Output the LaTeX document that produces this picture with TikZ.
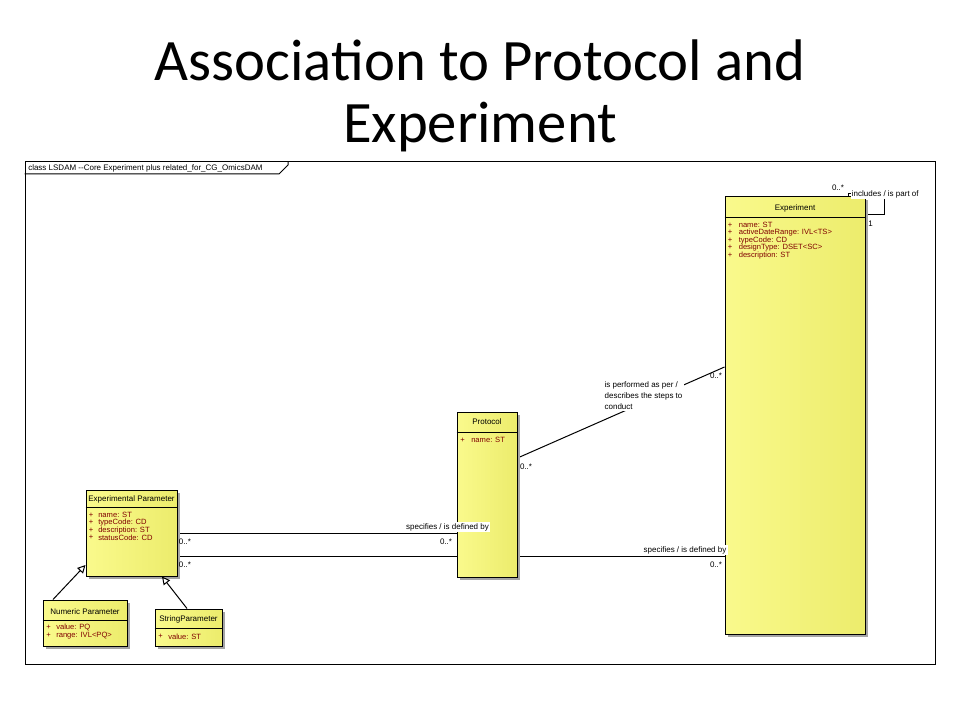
\documentclass[tikz,border=0pt]{standalone}
\usepackage{fontspec}
\setmainfont{Liberation Sans}
\newfontfamily\titlefont{Carlito}
\usetikzlibrary{fit,arrows.meta,shadows}
\pgfdeclarelayer{bg}
\pgfsetlayers{bg,main}
\definecolor{ylL}{RGB}{250,250,140}
\definecolor{ylM}{RGB}{255,255,158}
\definecolor{ylR}{RGB}{236,236,108}
\definecolor{attrc}{RGB}{128,0,0}
\definecolor{shadowc}{RGB}{165,165,165}
\tikzset{
  umlbox/.style={draw=black, line width=0.75pt, left color=ylL, middle color=ylM, right color=ylR,
    inner sep=0pt, drop shadow={shadow xshift=2.25pt, shadow yshift=-2.25pt, fill=shadowc, opacity=1}},
  ut/.style={font=\fontsize{6}{7}\selectfont, inner sep=0pt},
  hd/.style={ut, text=black},
  pl/.style={ut, font=\fontsize{5.7}{7}\selectfont, text=attrc, anchor=west},
  attxt/.style={ut, font=\fontsize{5.7}{7}\selectfont, text=attrc, anchor=west},
  lbl/.style={ut, fill=white, inner sep=1pt},
  conn/.style={draw=black, line width=0.75pt},
  gen/.style={conn, -{Triangle[fill=white, length=6pt, width=6pt, line width=0.75pt]}},
}
\begin{document}
\begin{tikzpicture}[x=0.75pt,y=-0.75pt]
\useasboundingbox (0,0) rectangle (960,720);
\begin{pgfonlayer}{bg}
\fill[white] (0,0) rectangle (960,720);
\end{pgfonlayer}

% title
\node[font=\titlefont\fontsize{44}{50}\selectfont, anchor=base] (t1) at (480,81) {Association to Protocol and};
\node[font=\titlefont\fontsize{44}{50}\selectfont, anchor=base] (t2) at (480,143) {Experiment};

% frame
\node[fit={(25,162)(935,664)}, inner sep=0pt, draw=black, line width=0.75pt] (frame) {};
\draw[conn] (frame.north west |- 0,174) -- (279,174) -- (288,165) -- (frame.north -| 288,0);
\node[ut, anchor=west] (framelbl) at (28,168) {class LSDAM -{}-Core Experiment plus related\_for\_CG\_OmicsDAM};

% boxes
\node[umlbox, fit={(725,197)(865,634)}] (exp) {};
\node[umlbox, fit={(457,412)(517,577)}] (prot) {};
\node[umlbox, fit={(86,490)(177,576)}] (ep) {};
\node[umlbox, fit={(43,600)(127,646)}] (num) {};
\node[umlbox, fit={(155,609)(222,646)}] (str) {};

% header separators
\draw[conn] (exp.west |- 0,217.5) -- (exp.east |- 0,217.5);
\draw[conn] (prot.west |- 0,432) -- (prot.east |- 0,432);
\draw[conn] (ep.west |- 0,507.5) -- (ep.east |- 0,507.5);
\draw[conn] (num.west |- 0,620) -- (num.east |- 0,620);
\draw[conn] (str.west |- 0,628) -- (str.east |- 0,628);

% Experiment text
\node[hd] (expt) at (795,208) {Experiment};
\node[pl] (ep1) at (727.5,225) {+};   \node[attxt] (ea1) at (738.5,225) {name: ST};
\node[pl] (ep2) at (727.5,232.6) {+}; \node[attxt] (ea2) at (738.5,232.6) {activeDateRange: IVL<TS>};
\node[pl] (ep3) at (727.5,240.2) {+}; \node[attxt] (ea3) at (738.5,240.2) {typeCode: CD};
\node[pl] (ep4) at (727.5,247.8) {+}; \node[attxt] (ea4) at (738.5,247.8) {designType: DSET<SC>};
\node[pl] (ep5) at (727.5,255.4) {+}; \node[attxt] (ea5) at (738.5,255.4) {description: ST};

% Protocol text
\node[hd] (prott) at (487,422) {Protocol};
\node[pl] (pp1) at (460,440) {+}; \node[attxt] (pa1) at (471,440) {name: ST};

% Experimental Parameter text
\node[hd] (ept) at (131.5,499) {Experimental Parameter};
\node[pl] (xp1) at (88.5,515) {+};   \node[attxt] (xa1) at (98,515) {name: ST};
\node[pl] (xp2) at (88.5,522.6) {+}; \node[attxt] (xa2) at (98,522.6) {typeCode: CD};
\node[pl] (xp3) at (88.5,530.2) {+}; \node[attxt] (xa3) at (98,530.2) {description: ST};
\node[pl] (xp4) at (88.5,537.8) {+}; \node[attxt] (xa4) at (98,537.8) {statusCode: CD};

% Numeric Parameter text
\node[hd] (numt) at (85,611.5) {Numeric Parameter};
\node[pl] (np1) at (46,627.5) {+};   \node[attxt] (na1) at (56,627.5) {value: PQ};
\node[pl] (np2) at (46,635.5) {+};   \node[attxt] (na2) at (56,635.5) {range: IVL<PQ>};

% String Parameter text
\node[hd] (strt) at (188.5,619) {StringParameter};
\node[pl] (sp1) at (158,636.5) {+}; \node[attxt] (sa1) at (168,636.5) {value: ST};

% connectors (behind boxes)
\begin{pgfonlayer}{bg}
\draw[conn] (ep.east |- 0,533) -- (prot.west |- 0,533);
\draw[conn] (ep.east |- 0,556) -- (exp.west |- 0,556);
\draw[conn] (prot.east |- 0,458) -- (exp.west |- 0,367);
\draw[conn] (exp.north -| 848,0) -- (848,194) -- (884,194) -- (884,215) -- (exp.east |- 0,215);
\end{pgfonlayer}

% generalizations
\draw[gen] (num.north -| 53,0) -- (ep.west |- 0,565);
\draw[gen] (str.north -| 187,0) -- (ep.south -| 162,0);

% labels
\node[lbl] (l1) at (447.5,527) {specifies / is defined by};
\node[ut] (m1a) at (185,542) {0..*};
\node[ut] (m1b) at (446,542) {0..*};
\node[lbl] (l2) at (685,550) {specifies / is defined by};
\node[ut] (m2a) at (185,565) {0..*};
\node[ut] (m2b) at (716,565) {0..*};
\node[lbl, align=left, anchor=north west, font=\fontsize{6}{8.25}\selectfont] (l3) at (603,380.5) {is performed as per /\\describes the steps to\\conduct};
\node[ut] (m3a) at (526,467) {0..*};
\node[ut] (m3b) at (716,376) {0..*};
\node[ut] (m4a) at (838,188) {0..*};
\node[lbl, anchor=west, inner sep=0.5pt] (l4) at (851,194.5) {includes / is part of};
\node[ut] (m4b) at (870.5,224) {1};
\end{tikzpicture}
\end{document}
